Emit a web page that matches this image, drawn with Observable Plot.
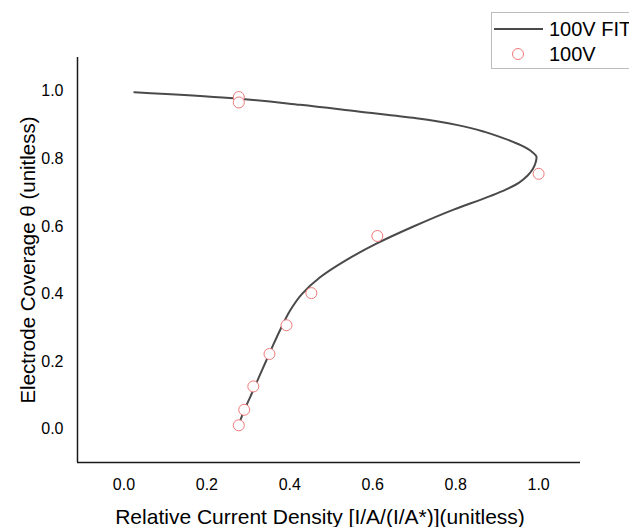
<!DOCTYPE html>
<html>
<head>
<meta charset="utf-8">
<script src="https://cdn.jsdelivr.net/npm/d3@7"></script>
<script src="https://cdn.jsdelivr.net/npm/@observablehq/plot@0.6"></script>
<style>
  html, body { margin: 0; padding: 0; background: #fff; }
  #wrap { position: relative; width: 629px; height: 527px; overflow: hidden; font-family: Arial, "Liberation Sans", sans-serif; }
  #legend { position: absolute; left: 491px; top: 12px; width: 150px; height: 57px; border: 1px solid #bdbdbd; background: #fff; box-sizing: border-box; font-size: 20px; color: #000; }
  #legend .row { position: absolute; left: 0; white-space: nowrap; display: flex; align-items: center; }
  #legend svg { display: block; }
</style>
</head>
<body>
<div id="wrap">
  <div id="chart"></div>
  <div id="legend">
    <div class="row" style="top:4px"><svg width="57" height="24"><line x1="2" x2="51" y1="12" y2="12" stroke="#4a4a4a" stroke-width="2"/></svg><span>100V FIT</span></div>
    <div class="row" style="top:29px"><svg width="57" height="24"><circle cx="26" cy="12" r="5.5" fill="#fff" stroke="#f07a7a" stroke-width="1"/></svg><span>100V</span></div>
  </div>
</div>
<script>
// Measured data (100V)
const dataX = [0.277, 0.277, 1.000, 0.611, 0.452, 0.392, 0.351, 0.312, 0.290, 0.277];
const dataY = [0.983, 0.967, 0.756, 0.572, 0.403, 0.308, 0.223, 0.127, 0.058, 0.012];

// Fit curve (100V FIT)
const fitY = [0.000, 0.050, 0.100, 0.150, 0.200, 0.250, 0.300, 0.350, 0.400, 0.450, 0.500, 0.550, 0.600, 0.650, 0.690, 0.710, 0.730, 0.750, 0.770, 0.790, 0.805, 0.820, 0.840, 0.860, 0.880, 0.900, 0.920, 0.940, 0.960, 0.980, 0.997];
const fitX = [0.273, 0.288, 0.306, 0.324, 0.342, 0.360, 0.379, 0.400, 0.429, 0.473, 0.535, 0.610, 0.698, 0.795, 0.883, 0.922, 0.953, 0.973, 0.986, 0.993, 0.995, 0.985, 0.958, 0.918, 0.870, 0.805, 0.705, 0.565, 0.425, 0.255, 0.025];

const xTicks = [0.0, 0.2, 0.4, 0.6, 0.8, 1.0];
const yTicks = [0.0, 0.2, 0.4, 0.6, 0.8, 1.0];
const xDomain = [-0.112, 1.101];
const yDomain = [-0.098, 1.10];
const xLabel = "Relative Current Density [I/A/(I/A*)](unitless)";
const yLabel = "Electrode Coverage θ (unitless)";

const points = dataX.map((x, i) => ({x, y: dataY[i]}));
const fit = fitX.map((x, i) => ({x, y: fitY[i]}));

const chart = Plot.plot({
  width: 629,
  height: 527,
  marginLeft: 77,
  marginRight: 49,
  marginTop: 57,
  marginBottom: 65,
  style: {fontFamily: 'Arial, "Liberation Sans", sans-serif', fontSize: "16px", color: "#000", background: "#fff"},
  x: {domain: xDomain},
  y: {domain: yDomain},
  marks: [
    Plot.axisX({ticks: xTicks, tickFormat: d3.format(".1f"), tickSize: 0, tickPadding: 16, label: null, fontSize: 16}),
    Plot.axisY({ticks: yTicks, tickFormat: d3.format(".1f"), tickSize: 0, tickPadding: 14, label: null, fontSize: 16}),
    Plot.text([xLabel], {frameAnchor: "bottom", dy: 55, dx: -9, lineAnchor: "middle", textAnchor: "middle", fontSize: 21, fill: "#000"}),
    Plot.text([yLabel], {frameAnchor: "left", dx: -49, rotate: -90, lineAnchor: "middle", textAnchor: "middle", fontSize: 20.5, fill: "#000"}),
    Plot.ruleX([xDomain[0]], {stroke: "#1a1a1a", strokeWidth: 1.5}),
    Plot.ruleY([yDomain[0]], {stroke: "#1a1a1a", strokeWidth: 1.5}),
    Plot.line(fit, {x: "x", y: "y", stroke: "#4a4a4a", strokeWidth: 2, curve: "monotone-y"}),
    Plot.dot(points, {x: "x", y: "y", r: 5.5, fill: "#fff", stroke: "#f07a7a", strokeWidth: 1})
  ]
});
document.getElementById("chart").appendChild(chart);
</script>
</body>
</html>
